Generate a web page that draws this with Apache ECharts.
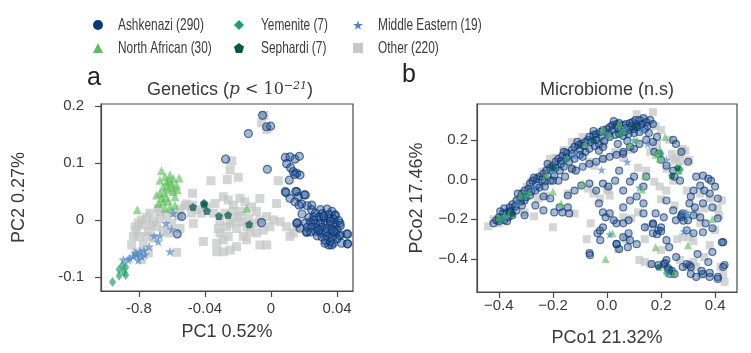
<!DOCTYPE html>
<html>
<head>
<meta charset="utf-8">
<script src="https://cdn.jsdelivr.net/npm/echarts@6/dist/echarts.min.js"></script>
<style>
  html, body { margin: 0; padding: 0; background: #fff; }
  #chart { width: 751px; height: 353px; }
</style>
</head>
<body>
<div id="chart"></div>
<script>
// legend / group names
const groups = ['Ashkenazi (290)', 'North African (30)', 'Yemenite (7)', 'Sephardi (7)', 'Middle Eastern (19)', 'Other (220)']

// tick labels (panel a x axis labels are printed that way in the figure)
const aXTicks = [-0.08, -0.04, 0, 0.04]
const aXTickLabels = ['-0.8', '-0.04', '0', '0.04']
const aYTicks = [-0.1, 0, 0.1, 0.2]
const aYTickLabels = ['-0.1', '0', '0.1', '0.2']
const bXTicks = [-0.4, -0.2, 0, 0.2, 0.4]
const bXTickLabels = ['\u22120.4', '\u22120.2', '0.0', '0.2', '0.4']
const bYTicks = [-0.4, -0.2, 0, 0.2]
const bYTickLabels = ['\u22120.4', '\u22120.2', '0.0', '0.2']

// ---- panel a: genetics PCA ----
const aAshkenazi = [
  [-0.0051, 0.184], [-0.0137, 0.152], [-0.0026, 0.164], [-0.0002, 0.165], [-0.0275, 0.107], [-0.0022, 0.089],
  [0.0087, 0.110], [0.0115, 0.111], [0.0145, 0.107], [0.0172, 0.112], [0.0095, 0.099], [0.0119, 0.092],
  [0.0135, 0.085], [0.0156, 0.082], [0.0176, 0.079], [0.0145, 0.080], [0.0111, 0.070], [0.0087, 0.050],
  [0.0156, 0.050], [0.0208, 0.044], [0.0166, 0.041], [0.0115, 0.038], [0.0145, 0.032], [0.0186, 0.028],
  [0.0220, 0.025], [0.0246, 0.018], [0.0459, -0.0246], [0.0463, -0.042], [0.0414, -0.028], [0.0378, -0.041],
  [0.0350, -0.044], [0.0428, -0.041], [0.0160, -0.0047], [0.0176, -0.0146], [0.0216, -0.022], [-0.0541, 0.006],
  [-0.0568, -0.0246], [-0.0057, -0.0047], [0.0091, 0.048], [0.0150, 0.050], [0.0202, 0.044], [0.0170, 0.026],
  [0.0247, 0.026], [0.0156, -0.006], [0.0188, 0.0105], [0.0388, 0.0088], [0.0418, -0.006], [0.0465, -0.025],
  [0.0465, -0.042], [0.0368, -0.044], [0.0327, -0.041], [0.0216, -0.0205],
  [0.030, 0.018], [0.034, 0.019], [0.037, 0.015], [0.027, 0.012], [0.031, 0.011], [0.035, 0.010], [0.039, 0.008],
  [0.023, 0.004], [0.026, 0.005], [0.029, 0.004], [0.032, 0.003], [0.035, 0.002], [0.038, 0.001], [0.041, -0.001],
  [0.021, -0.005], [0.024, -0.004], [0.027, -0.006], [0.030, -0.005], [0.033, -0.006], [0.036, -0.007],
  [0.039, -0.008], [0.042, -0.010], [0.022, -0.013], [0.025, -0.012], [0.028, -0.014], [0.031, -0.013],
  [0.034, -0.015], [0.037, -0.016], [0.040, -0.017], [0.024, -0.021], [0.027, -0.020], [0.030, -0.022],
  [0.033, -0.021], [0.036, -0.023], [0.039, -0.024], [0.042, -0.026], [0.028, -0.028], [0.031, -0.030],
  [0.034, -0.029], [0.037, -0.031], [0.040, -0.033], [0.033, -0.036], [0.036, -0.038], [0.026, 0.000],
  [0.036, -0.002], [0.029, -0.018], [0.038, -0.020], [0.032, 0.007]
]
const aNorthAfrican = [
  [-0.0663, 0.0866], [-0.0642, 0.076], [-0.0612, 0.079], [-0.0592, 0.073], [-0.0556, 0.074], [-0.0632, 0.067],
  [-0.0602, 0.064], [-0.0572, 0.061], [-0.0653, 0.058], [-0.0622, 0.053], [-0.0592, 0.050], [-0.0673, 0.047],
  [-0.0582, 0.041], [-0.0636, 0.040], [-0.0693, 0.044], [-0.0653, 0.032], [-0.0612, 0.023], [-0.0642, 0.020],
  [-0.0810, 0.018], [-0.0147, 0.020], [-0.0673, 0.070], [-0.0616, 0.070], [-0.0648, 0.048], [-0.0568, 0.053],
  [-0.0683, 0.029], [-0.0582, 0.026], [-0.0628, 0.060], [-0.0596, 0.057], [-0.0663, 0.038], [-0.0622, 0.034]
]
const aYemenite = [
  [-0.096, -0.109], [-0.092, -0.098], [-0.092, -0.087], [-0.089, -0.092], [-0.088, -0.083], [-0.088, -0.097], [-0.090, -0.080]
]
const aSephardi = [
  [-0.0473, 0.0228], [-0.0406, 0.030], [-0.0388, 0.0158], [-0.0315, 0.007], [-0.026, 0.0088], [-0.0132, -0.0075], [-0.0405, 0.027]
]
const aMiddleEastern = [
  [-0.0592, 0.0117], [-0.0636, -0.0058], [-0.0602, -0.0164], [-0.0709, -0.028], [-0.0683, -0.038], [-0.0738, -0.047],
  [-0.0770, -0.053], [-0.0794, -0.0556], [-0.0814, -0.0614], [-0.0835, -0.064], [-0.0855, -0.067], [-0.0895, -0.070],
  [-0.0784, -0.064], [-0.0804, -0.070], [-0.0612, -0.0556], [-0.0764, -0.061], [-0.0824, -0.058], [-0.0865, -0.070],
  [-0.0673, -0.028]
]
const aOther = [
  [-0.0057, 0.171], [-0.0026, 0.159], [-0.0042, 0.184], [-0.0238, 0.104], [-0.0248, 0.088], [-0.0198, 0.075],
  [-0.0265, 0.071], [0.0044, 0.069], [-0.0364, 0.069], [-0.0475, 0.047], [-0.0511, 0.028], [-0.0683, 0.020],
  [-0.0673, 0.015], [-0.0733, 0.012], [-0.0753, 0.005], [-0.0784, 0.000], [-0.0804, -0.005], [-0.0824, -0.012],
  [-0.0778, -0.009], [-0.0713, -0.003], [-0.0673, 0.003], [-0.0632, 0.009], [-0.0592, 0.013], [-0.0551, 0.019],
  [-0.0521, 0.025], [-0.0475, 0.026], [-0.0450, 0.018], [-0.0420, 0.012], [-0.0471, -0.006], [-0.0410, -0.038],
  [-0.0844, -0.044], [-0.0800, -0.029], [-0.0753, -0.029], [-0.0713, -0.032], [-0.0622, -0.023], [-0.0572, -0.057],
  [-0.0784, -0.070], [-0.0814, -0.058], [-0.0743, -0.058], [-0.0693, -0.012], [-0.0652, -0.018], [-0.0743, -0.020],
  [-0.0289, 0.041], [-0.0259, 0.035], [-0.0228, 0.026], [-0.0188, 0.038], [-0.0158, 0.032], [-0.0117, 0.023],
  [-0.0067, 0.038], [-0.0087, 0.015], [-0.0026, 0.006], [0.0014, 0.000], [0.0055, -0.003], [0.0095, -0.012],
  [0.0034, 0.029], [-0.0228, 0.000], [-0.0269, -0.012], [-0.0309, -0.023], [-0.0329, -0.041], [-0.0289, -0.056],
  [-0.0248, -0.053], [-0.0208, -0.047], [-0.0168, -0.029], [-0.0127, -0.020], [-0.0087, -0.023], [-0.0046, -0.018],
  [-0.0067, -0.044], [-0.0026, -0.044], [-0.0309, -0.003], [-0.0349, 0.012], [-0.0390, 0.023], [-0.0339, 0.029],
  [-0.0178, -0.003], [-0.0137, 0.003], [-0.0097, -0.006], [-0.0147, -0.012], [-0.0208, -0.015], [-0.0259, -0.029],
  [-0.0006, -0.012], [0.0135, -0.023], [0.0115, -0.029], [0.0156, -0.012], [-0.0067, 0.000], [-0.0228, 0.015],
  [-0.0198, 0.006], [-0.0248, -0.006], [-0.0279, 0.012], [-0.0319, -0.015], [-0.0178, 0.015], [-0.0147, -0.035],
  [-0.0289, -0.035], [-0.0329, -0.056], [-0.0561, 0.007], [-0.0481, 0.012], [-0.0602, -0.006], [-0.0551, -0.015],
  [-0.0834, -0.029], [-0.0774, -0.044], [-0.0814, -0.020], [-0.0729, -0.009]
]

// ---- panel b: microbiome PCoA ----
const bAshkenazi = [
  [-0.42, -0.22], [-0.41, -0.205], [-0.40, -0.19], [-0.385, -0.17], [-0.37, -0.165], [-0.38, -0.145], [-0.36, -0.14],
  [-0.35, -0.125], [-0.335, -0.105], [-0.32, -0.09], [-0.315, -0.07], [-0.305, -0.055], [-0.29, -0.045], [-0.285, -0.02],
  [-0.275, -0.005], [-0.26, 0.005], [-0.25, 0.015], [-0.235, 0.03], [-0.225, 0.045], [-0.21, 0.06], [-0.20, 0.07],
  [-0.19, 0.09], [-0.18, 0.105], [-0.17, 0.095], [-0.165, 0.12], [-0.15, 0.135], [-0.13, 0.15], [-0.12, 0.165],
  [-0.105, 0.175], [-0.095, 0.18], [-0.08, 0.19], [-0.07, 0.20], [-0.065, 0.215], [-0.05, 0.225], [-0.04, 0.23],
  [-0.025, 0.24], [-0.015, 0.25], [0.0, 0.255], [0.01, 0.265], [0.02, 0.275], [0.035, 0.28], [0.045, 0.285],
  [0.06, 0.275], [0.07, 0.28], [0.085, 0.285], [0.095, 0.29], [0.11, 0.28], [0.12, 0.30], [0.135, 0.31],
  [0.145, 0.29], [0.16, 0.30], [0.17, 0.28],
  [-0.38, -0.205], [-0.365, -0.19], [-0.355, -0.165], [-0.335, -0.155], [-0.315, -0.13], [-0.305, -0.105],
  [-0.285, -0.08], [-0.265, -0.055], [-0.25, -0.04], [-0.23, -0.01], [-0.21, -0.005], [-0.195, 0.02], [-0.175, 0.045],
  [-0.16, 0.065], [-0.14, 0.09], [-0.12, 0.105], [-0.10, 0.125], [-0.08, 0.14], [-0.065, 0.155], [-0.045, 0.17],
  [-0.03, 0.18], [-0.01, 0.195], [0.01, 0.215], [0.03, 0.225], [0.045, 0.23], [0.065, 0.24], [0.085, 0.25],
  [0.10, 0.255], [0.12, 0.265], [0.14, 0.255],
  [-0.305, -0.18], [-0.265, -0.13], [-0.235, -0.085], [-0.23, -0.035], [-0.20, -0.005], [-0.18, -0.005],
  [-0.155, 0.015], [-0.13, 0.055], [-0.115, 0.045], [-0.09, 0.065], [-0.065, 0.08], [-0.04, 0.09], [-0.015, 0.105],
  [0.01, 0.115], [0.035, 0.125], [0.06, 0.14], [0.085, 0.165], [0.10, 0.155], [0.12, 0.18], [0.145, 0.20],
  [0.17, 0.19], [0.185, 0.215], [0.175, 0.14], [0.19, 0.13], [0.20, 0.10], [0.22, 0.07], [0.245, 0.045],
  [0.25, 0.015], [0.27, -0.005], [0.245, 0.20], [0.255, 0.18], [0.275, 0.14], [0.30, 0.09], [0.33, 0.015],
  [0.355, 0.02], [0.375, 0.005], [0.385, -0.005], [0.40, -0.035], [0.41, -0.095], [0.38, -0.07], [0.36, -0.055],
  [0.345, -0.03], [0.32, -0.055], [0.31, -0.085], [0.305, -0.12], [0.325, -0.14], [0.355, -0.12], [0.39, -0.14],
  [0.28, -0.17], [0.30, -0.205], [0.32, -0.27], [0.295, -0.255], [0.275, -0.19], [0.255, -0.205], [0.245, -0.155],
  [0.22, -0.105], [0.21, -0.19], [0.18, -0.17], [0.17, -0.22], [0.17, -0.27], [0.19, -0.255], [0.20, -0.24],
  [0.22, -0.305], [0.23, -0.34], [0.22, -0.405], [0.21, -0.425], [0.23, -0.455], [0.25, -0.475], [0.28, -0.44],
  [0.305, -0.43], [0.31, -0.475], [0.33, -0.49], [0.355, -0.475], [0.38, -0.49], [0.41, -0.50], [0.435, -0.43],
  [0.43, -0.315], [0.39, -0.365], [0.375, -0.415], [0.335, -0.375], [0.355, -0.265], [0.39, -0.245], [0.41, -0.195],
  [0.10, 0.015], [0.085, -0.01], [0.06, -0.055], [0.045, 0.045], [0.03, -0.005], [0.005, -0.035], [-0.015, -0.02],
  [-0.04, -0.055], [-0.065, -0.02], [-0.095, -0.03], [-0.12, -0.055], [-0.145, -0.08], [-0.175, -0.14], [-0.21, -0.095],
  [-0.235, -0.155], [-0.195, -0.165], [-0.165, -0.165], [-0.145, -0.14], [-0.14, -0.17], [-0.03, -0.12],
  [-0.015, -0.165], [-0.005, -0.19], [0.01, -0.17], [0.025, -0.205], [0.035, -0.22], [0.06, -0.22], [-0.015, -0.24],
  [-0.035, -0.27], [-0.025, -0.305], [0.035, -0.325], [0.06, -0.29], [0.08, -0.27], [0.085, -0.305], [0.11, -0.325],
  [0.14, -0.24], [0.135, -0.17], [0.135, -0.12], [0.135, -0.035], [0.145, 0.015], [0.11, -0.085], [0.085, -0.105],
  [0.06, -0.14], [0.08, -0.205], [-0.065, -0.37], [0.045, -0.35], [0.06, 0.13], [-0.015, 0.165],
  [-0.063, -0.38], [-0.026, -0.257], [0.036, -0.324], [0.077, -0.34], [0.17, -0.225], [0.185, -0.275], [0.20, -0.26],
  [0.165, -0.425], [0.19, -0.43], [0.215, -0.42], [0.225, -0.445], [0.235, -0.475], [0.24, -0.46], [0.256, -0.39],
  [0.295, -0.425], [0.31, -0.44], [0.35, -0.46], [0.38, -0.47], [0.41, -0.49], [0.43, -0.44], [0.425, -0.316],
  [0.283, -0.207], [0.275, -0.18], [0.32, -0.18], [0.345, -0.19], [0.365, -0.22],
  [0.02, 0.25], [0.04, 0.26], [0.05, 0.25], [0.07, 0.26], [0.09, 0.27], [0.11, 0.265], [0.08, 0.23], [0.06, 0.22],
  [0.10, 0.235], [0.12, 0.24], [0.13, 0.28], [0.15, 0.27], [0.005, 0.23], [-0.02, 0.22], [-0.04, 0.20], [-0.06, 0.19],
  [-0.085, 0.17], [-0.10, 0.15], [-0.13, 0.13], [-0.15, 0.11], [-0.17, 0.08], [-0.19, 0.06], [-0.22, 0.02],
  [-0.24, 0.0], [-0.26, -0.03], [-0.28, -0.06], [-0.30, -0.09], [-0.32, -0.11], [-0.34, -0.135], [-0.36, -0.16],
  [-0.39, -0.19], [-0.40, -0.21], [-0.37, -0.21], [-0.35, -0.18],
  [-0.11, 0.19], [-0.05, 0.245], [0.025, 0.295], [0.105, 0.30], [-0.16, 0.14], [-0.22, 0.08], [-0.27, 0.01],
  [-0.33, -0.07], [-0.395, -0.16], [0.075, 0.195], [-0.03, 0.145], [-0.09, 0.115], [0.04, 0.18], [0.155, 0.235]
]
const bNorthAfrican = [
  [-0.17, -0.12], [-0.005, -0.40], [0.02, -0.27], [0.18, -0.34], [0.215, 0.215], [0.30, -0.33], [0.39, -0.20],
  [-0.225, 0.025], [-0.09, -0.02], [-0.20, -0.06], [-0.38, -0.18], [-0.40, -0.19], [0.085, 0.18], [0.06, 0.25],
  [0.045, 0.28], [0.01, 0.225], [-0.015, 0.25], [0.11, 0.20], [0.18, 0.125], [0.195, 0.105], [0.27, 0.065],
  [0.265, 0.045], [0.195, 0.15], [-0.29, -0.07], [-0.32, -0.08], [-0.36, -0.17], [0.13, -0.05], [0.25, -0.47],
  [0.14, 0.02], [-0.08, 0.18]
]
const bYemenite = [[-0.39, -0.20], [-0.30, -0.08], [-0.15, 0.10], [0.05, 0.23], [0.27, 0.05], [0.20, 0.13], [0.22, -0.47]]
const bSephardi = [[-0.35, -0.17], [-0.20, 0.06], [-0.05, 0.20], [0.10, 0.27], [0.26, 0.06], [0.24, 0.02], [0.19, -0.44]]
const bMiddleEastern = [
  [0.075, 0.09], [0.01, -0.275], [0.295, -0.165], [0.285, -0.26], [-0.38, -0.19], [-0.33, -0.12], [-0.27, -0.04],
  [-0.20, 0.04], [-0.12, 0.12], [-0.06, 0.19], [0.0, 0.22], [0.07, 0.26], [0.13, 0.25], [0.15, 0.18], [0.22, 0.10],
  [0.30, -0.18], [0.12, -0.04], [-0.02, 0.05], [0.10, 0.20]
]
const bOther = [
  [-0.44, -0.235], [-0.37, -0.185], [-0.305, -0.165], [-0.27, -0.185], [-0.255, -0.095], [-0.225, -0.08], [-0.20, -0.24],
  [-0.145, -0.07], [-0.125, 0.05], [-0.075, -0.30], [-0.07, -0.045], [-0.065, 0.09], [-0.05, -0.07], [-0.025, -0.095],
  [0.005, -0.055], [0.01, -0.08], [0.06, -0.19], [0.07, -0.30], [0.09, -0.195], [0.115, -0.165], [0.14, -0.30],
  [0.12, -0.405], [0.14, -0.415], [0.16, -0.425], [0.115, 0.06], [0.145, 0.045], [0.17, 0.17], [0.185, 0.18],
  [0.18, 0.27], [0.11, 0.33], [0.17, 0.34], [0.11, 0.265], [-0.09, 0.215], [-0.13, 0.19], [-0.16, 0.15], [-0.19, 0.11],
  [-0.21, 0.105], [0.24, 0.13], [0.255, 0.11], [0.275, 0.13], [0.28, 0.155], [0.29, 0.145], [0.245, 0.095], [0.22, 0.055],
  [0.27, 0.095], [0.305, 0.10], [0.175, -0.01], [0.195, -0.035], [0.22, -0.055], [0.245, -0.005], [0.295, -0.055],
  [0.345, -0.07], [0.38, -0.095], [0.425, -0.105], [0.41, -0.145], [0.36, -0.145], [0.33, -0.165], [0.345, -0.22],
  [0.40, -0.255], [0.415, -0.18], [0.28, -0.29], [0.305, -0.29], [0.20, -0.355], [0.27, -0.405], [0.32, -0.415],
  [0.36, -0.39], [0.35, -0.48], [0.43, -0.48], [0.435, -0.515], [0.42, -0.44], [0.295, -0.44], [0.33, -0.44],
  [-0.131, 0.054], [-0.047, 0.07], [-0.014, 0.104], [-0.038, 0.217], [0.0, -0.047], [-0.217, 0.07], [-0.297, -0.035],
  [-0.33, -0.10], [-0.35, -0.14], [-0.40, -0.22], [-0.42, -0.20], [-0.28, -0.01], [-0.24, 0.04], [0.0, 0.24],
  [0.03, 0.27], [0.14, 0.30], [0.20, 0.25], [0.23, 0.20], [0.16, 0.14], [0.09, 0.15], [0.03, 0.14], [-0.01, 0.18],
  [0.06, 0.11], [0.20, -0.10], [0.25, -0.13], [0.15, -0.24], [-0.12, -0.17], [-0.06, -0.22], [0.04, -0.35],
  [0.38, -0.33], [0.32, -0.31], [0.21, -0.44], [0.26, -0.30]
]

// 形状和颜色
const starPath = 'path://M50,0 L61,35 L98,35 L68,57 L79,91 L50,70 L21,91 L32,57 L2,35 L39,35 Z'
const pentaPath = 'path://M50,0 L98,36 L80,95 L20,95 L2,36 Z'
const looks = {
  'Ashkenazi (290)': { symbol: 'circle', size: 8, legend: '#0a3a7a',
    style: { color: 'rgba(30,80,150,0.5)', borderColor: 'rgba(8,48,107,0.8)', borderWidth: 1.2 } },
  'North African (30)': { symbol: 'triangle', size: 9, legend: '#5cbf5a', style: { color: 'rgba(92,191,90,0.8)' } },
  'Yemenite (7)': { symbol: 'diamond', size: [7, 10], legend: '#1e9e6e', style: { color: 'rgba(30,158,110,0.85)' } },
  'Sephardi (7)': { symbol: pentaPath, size: 8, legend: '#00594f', style: { color: 'rgba(0,89,79,0.9)' } },
  'Middle Eastern (19)': { symbol: starPath, size: 10, legend: '#4a86c8', style: { color: 'rgba(74,134,200,0.85)' } },
  'Other (220)': { symbol: 'rect', size: 9, legend: '#c6c8c8', style: { color: 'rgba(196,198,198,0.92)' } }
}

const panelA = {
  'Other (220)': aOther, 'Ashkenazi (290)': aAshkenazi, 'North African (30)': aNorthAfrican,
  'Middle Eastern (19)': aMiddleEastern, 'Yemenite (7)': aYemenite, 'Sephardi (7)': aSephardi
}
const panelB = {
  'Other (220)': bOther, 'Ashkenazi (290)': bAshkenazi, 'North African (30)': bNorthAfrican,
  'Middle Eastern (19)': bMiddleEastern, 'Yemenite (7)': bYemenite, 'Sephardi (7)': bSephardi
}

const textColor = '#3a3a3a'
const font = 'Liberation Sans, Arial, sans-serif'

function pickLabel(ticks, labels) {
  return v => {
    const i = ticks.findIndex(t => Math.abs(t - v) < 1e-9)
    return i >= 0 ? labels[i] : ''
  }
}

function makeAxis(gridIndex, min, max, ticks, labels, name, nameGap, margin) {
  return {
    type: 'value', gridIndex, min, max,
    name, nameLocation: 'middle', nameGap,
    nameTextStyle: { fontFamily: font, fontSize: 18, color: textColor },
    axisLine: { show: true, onZero: false, lineStyle: { color: '#4a4a4a', width: 1.2 } },
    axisTick: { show: true, length: 6, customValues: ticks, lineStyle: { color: '#4a4a4a', width: 1.2 } },
    axisLabel: { customValues: ticks, formatter: pickLabel(ticks, labels), margin,
      fontFamily: font, fontSize: 15, color: textColor },
    splitLine: { show: false }
  }
}

// 6 legend boxes laid out in 3 columns x 2 rows (icons only, text drawn condensed below)
const legendPos = [
  { name: 'Ashkenazi (290)', left: 93, top: 20, tx: 118, ty: 25 },
  { name: 'North African (30)', left: 93, top: 43, tx: 118, ty: 48 },
  { name: 'Yemenite (7)', left: 234, top: 20, tx: 261, ty: 25 },
  { name: 'Sephardi (7)', left: 234, top: 43, tx: 261, ty: 48 },
  { name: 'Middle Eastern (19)', left: 353, top: 20, tx: 378, ty: 25 },
  { name: 'Other (220)', left: 353, top: 43, tx: 378, ty: 48 }
]

const series = []
;[panelA, panelB].forEach((panel, gi) => {
  Object.keys(panel).forEach(name => {
    const lk = looks[name]
    series.push({
      type: 'scatter', name, xAxisIndex: gi, yAxisIndex: gi,
      symbol: lk.symbol, symbolSize: gi === 0 ? lk.size : (Array.isArray(lk.size) ? lk.size : lk.size - 1),
      itemStyle: lk.style, data: panel[name], silent: true
    })
  })
})

const legendTexts = legendPos.map(p => ({
  type: 'text', x: p.tx, y: p.ty, scaleX: 0.72,
  style: { text: p.name, font: '16.5px Liberation Sans', fill: textColor, verticalAlign: 'middle' }
}))

const myChart = echarts.init(document.getElementById('chart'))
const option = {
  animation: false,
  backgroundColor: '#fff',
  grid: [
    { left: 101, top: 104, width: 252, height: 187, show: true, borderColor: '#4a4a4a', borderWidth: 1.2 },
    { left: 477, top: 104, width: 260, height: 188, show: true, borderColor: '#4a4a4a', borderWidth: 1.2 }
  ],
  xAxis: [
    makeAxis(0, -0.103, 0.0497, aXTicks, aXTickLabels, 'PC1 0.52%', 32, 10),
    makeAxis(1, -0.481, 0.481, bXTicks, bXTickLabels, 'PCo1 21.32%', 37, 6)
  ],
  yAxis: [
    makeAxis(0, -0.125, 0.204, aYTicks, aYTickLabels, 'PC2 0.27%', 73, 17),
    makeAxis(1, -0.566, 0.381, bYTicks, bYTickLabels, 'PCo2 17.46%', 51, 9)
  ],
  legend: legendPos.map(p => ({
    left: p.left, top: p.top, padding: 0, itemWidth: 10, itemHeight: 10, selectedMode: false,
    formatter: () => '',
    data: [{ name: p.name, itemStyle: { color: looks[p.name].legend, opacity: 1, borderWidth: 0 } }]
  })),
  graphic: legendTexts.concat([
    { type: 'text', left: 87, top: 66, style: { text: 'a', font: '25px Liberation Sans', fill: '#222' } },
    { type: 'text', left: 402, top: 63, style: { text: 'b', font: '25px Liberation Sans', fill: '#222' } },
    {
      type: 'text', x: 230, y: 90,
      style: {
        text: '{t|Genetics (}{m|p}{n| < 10}{s|\u221221}{t|)}',
        align: 'center', verticalAlign: 'middle',
        rich: {
          t: { fontFamily: font, fontSize: 18, fill: textColor },
          m: { fontFamily: 'DejaVu Serif', fontStyle: 'italic', fontSize: 17, fill: textColor },
          n: { fontFamily: 'DejaVu Serif', fontSize: 16, fill: textColor },
          s: { fontFamily: 'DejaVu Serif', fontStyle: 'italic', fontSize: 11, fill: textColor, verticalAlign: 'top', padding: [0, 0, 8, 0] }
        }
      }
    },
    { type: 'text', x: 607, y: 90, style: { text: 'Microbiome (n.s)', align: 'center', verticalAlign: 'middle',
      font: '18px Liberation Sans', fill: textColor } }
  ]),
  series
}

// 使用刚指定的配置项和数据显示图表。
myChart.setOption(option)
</script>
</body>
</html>
